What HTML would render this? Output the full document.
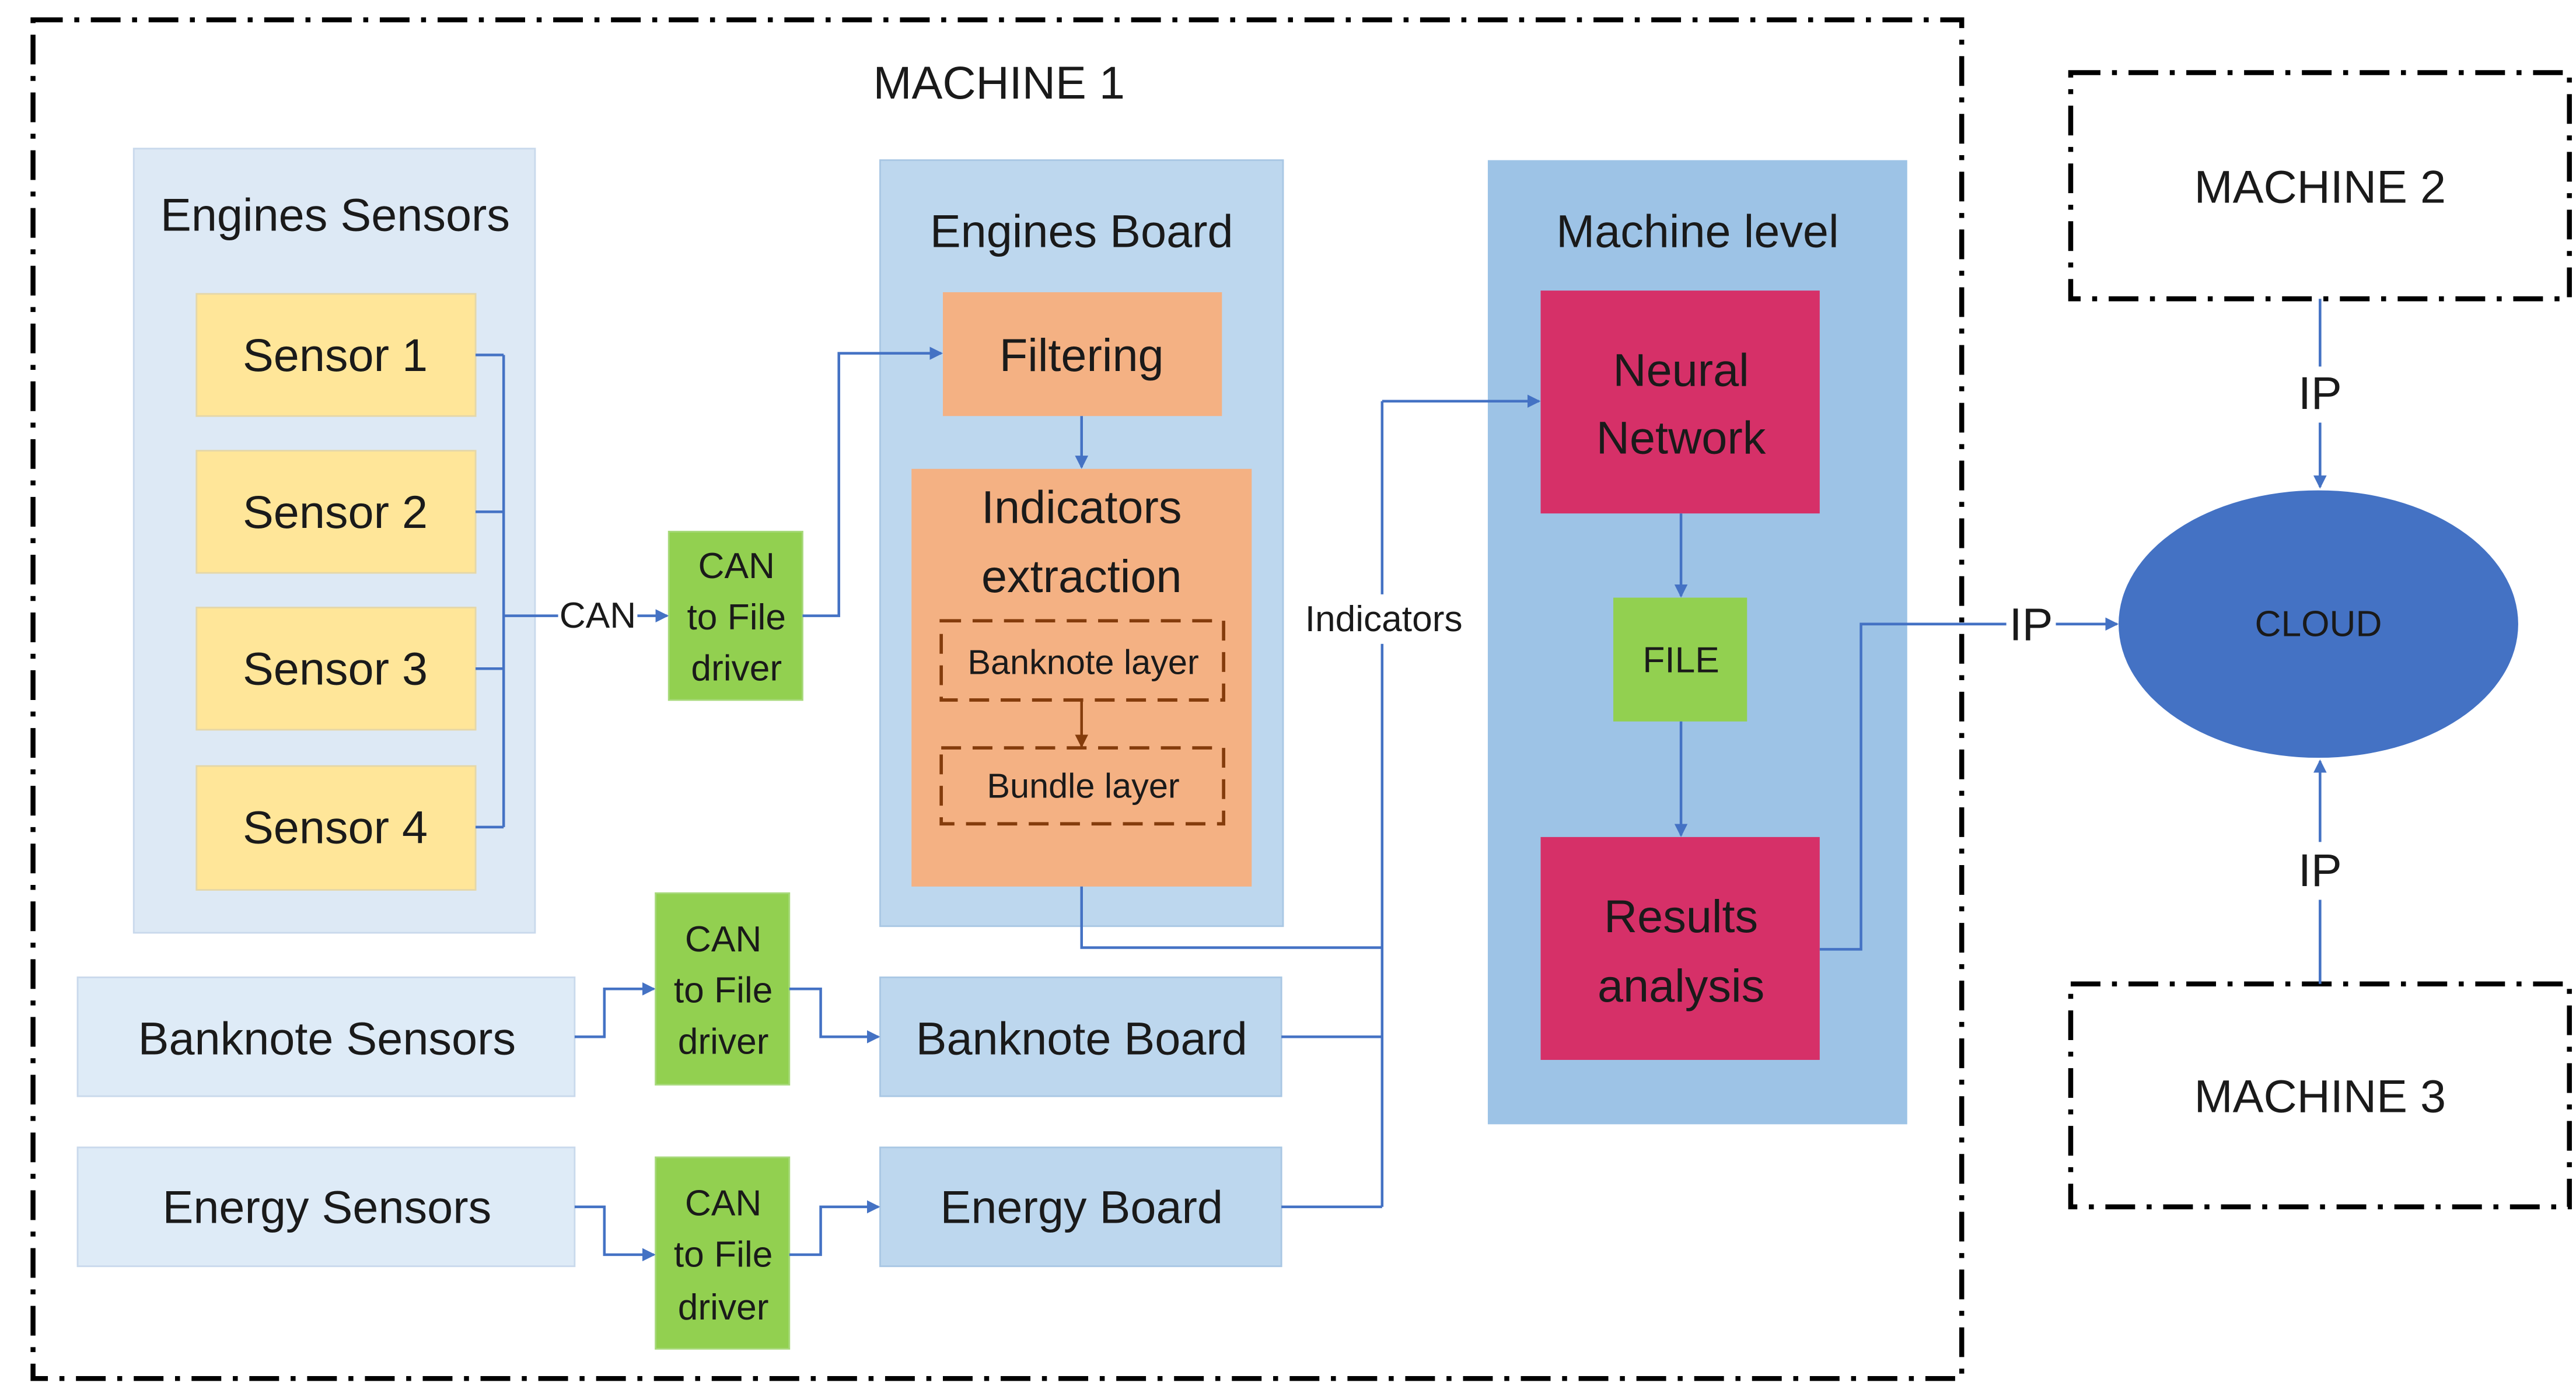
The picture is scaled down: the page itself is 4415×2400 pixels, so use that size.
<!DOCTYPE html>
<html><head><meta charset="utf-8"><style>
html,body{margin:0;padding:0;background:#fff;}
svg{display:block;}
text{font-family:"Liberation Sans",sans-serif;fill:#1a1a1a;text-anchor:middle;dominant-baseline:central;}
</style></head><body>
<svg width="4415" height="2400" viewBox="0 0 1560 848" xmlns="http://www.w3.org/2000/svg">
<defs>
<marker id="a" markerWidth="8" markerHeight="8" refX="7" refY="4" orient="auto" markerUnits="userSpaceOnUse">
<path d="M0,0 L8,4 L0,8 z" fill="#4472c4"/></marker>
<marker id="b" markerWidth="8" markerHeight="8" refX="7" refY="4" orient="auto" markerUnits="userSpaceOnUse">
<path d="M0,0 L8,4 L0,8 z" fill="#843c0c"/></marker>
</defs>
<rect width="1560" height="848" fill="#fff"/>
<rect x="20" y="12" width="1168" height="823" fill="none" stroke="#000" stroke-width="3" stroke-dasharray="18,7,3,7"/>
<text x="605" y="50" font-size="28">MACHINE 1</text>

<rect x="81" y="90" width="243" height="475" fill="#dde9f5" stroke="#c9d9ec"/>
<text x="203" y="130" font-size="28">Engines Sensors</text>
<g fill="#ffe699" stroke="#e5d7a8">
<rect x="119" y="178" width="169" height="74"/>
<rect x="119" y="273" width="169" height="74"/>
<rect x="119" y="368" width="169" height="74"/>
<rect x="119" y="464" width="169" height="75"/>
</g>
<text x="203" y="215" font-size="28">Sensor 1</text>
<text x="203" y="310" font-size="28">Sensor 2</text>
<text x="203" y="405" font-size="28">Sensor 3</text>
<text x="203" y="501" font-size="28">Sensor 4</text>

<g fill="#92d050" stroke="#a7d97a">
<rect x="405" y="322" width="81" height="102"/>
<rect x="397" y="541" width="81" height="116"/>
<rect x="397" y="701" width="81" height="116"/>
</g>
<g font-size="22">
<text x="446" y="343">CAN</text><text x="446" y="374">to File</text><text x="446" y="405">driver</text>
<text x="438" y="569">CAN</text><text x="438" y="600">to File</text><text x="438" y="631">driver</text>
<text x="438" y="729">CAN</text><text x="438" y="760">to File</text><text x="438" y="792">driver</text>
</g>

<rect x="533" y="97" width="244" height="464" fill="#bdd7ee" stroke="#a9c7e4"/>
<text x="655" y="140" font-size="28">Engines Board</text>
<rect x="571" y="177" width="169" height="75" fill="#f4b183"/>
<text x="655" y="215" font-size="28">Filtering</text>
<rect x="552" y="284" width="206" height="253" fill="#f4b183"/>
<text x="655" y="307" font-size="28">Indicators</text>
<text x="655" y="349" font-size="28">extraction</text>
<g fill="none" stroke="#843c0c" stroke-width="2" stroke-dasharray="12,7">
<rect x="570" y="376" width="171" height="48"/>
<rect x="570" y="453" width="171" height="46"/>
</g>
<path d="M655,424 V452" stroke="#843c0c" stroke-width="1.6" marker-end="url(#b)"/>
<text x="656" y="401" font-size="21">Banknote layer</text>
<text x="656" y="476" font-size="21">Bundle layer</text>

<rect x="47" y="592" width="301" height="72" fill="#deebf7" stroke="#c9d9ec"/>
<text x="198" y="629" font-size="28">Banknote Sensors</text>
<rect x="47" y="695" width="301" height="72" fill="#deebf7" stroke="#c9d9ec"/>
<text x="198" y="731" font-size="28">Energy Sensors</text>
<rect x="533" y="592" width="243" height="72" fill="#bdd7ee" stroke="#a9c7e4"/>
<text x="655" y="629" font-size="28">Banknote Board</text>
<rect x="533" y="695" width="243" height="72" fill="#bdd7ee" stroke="#a9c7e4"/>
<text x="655" y="731" font-size="28">Energy Board</text>

<rect x="901" y="97" width="254" height="584" fill="#9dc3e6"/>
<text x="1028" y="140" font-size="28">Machine level</text>
<rect x="933" y="176" width="169" height="135" fill="#d63068"/>
<text x="1018" y="224" font-size="28">Neural</text>
<text x="1018" y="265" font-size="28">Network</text>
<rect x="977" y="362" width="81" height="75" fill="#92d050"/>
<text x="1018" y="400" font-size="22">FILE</text>
<rect x="933" y="507" width="169" height="135" fill="#d63068"/>
<text x="1018" y="555" font-size="28">Results</text>
<text x="1018" y="597" font-size="28">analysis</text>

<ellipse cx="1404" cy="378" rx="121" ry="81" fill="#4472c4"/>
<text x="1404" y="378" font-size="22">CLOUD</text>

<g fill="none" stroke="#000" stroke-width="3" stroke-dasharray="18,7,3,7">
<rect x="1254" y="44" width="302" height="137"/>
<rect x="1254" y="596" width="302" height="135"/>
</g>
<text x="1405" y="113" font-size="28">MACHINE 2</text>
<text x="1405" y="664" font-size="28">MACHINE 3</text>

<!-- connectors on top -->
<g fill="none" stroke="#4472c4" stroke-width="1.6">
<path d="M288,215 H305 M288,310 H305 M288,405 H305 M288,501 H305 M305,215 V501 M305,373 H338"/>
<path d="M386,373 H404" marker-end="url(#a)"/>
<path d="M486,373 H508 V214 H570" marker-end="url(#a)"/>
<path d="M655,252 V283" marker-end="url(#a)"/>
<path d="M348,628 H366 V599 H396" marker-end="url(#a)"/>
<path d="M478,599 H497 V628 H532" marker-end="url(#a)"/>
<path d="M348,731 H366 V760 H396" marker-end="url(#a)"/>
<path d="M478,760 H497 V731 H532" marker-end="url(#a)"/>
<path d="M655,537 V574 H837 M776,628 H837 M776,731 H837 M837,731 V243"/>
<path d="M837,243 H932" marker-end="url(#a)"/>
<path d="M1018,311 V361" marker-end="url(#a)"/>
<path d="M1018,437 V506" marker-end="url(#a)"/>
<path d="M1102,575 H1127 V378 H1215"/>
<path d="M1245,378 H1282" marker-end="url(#a)"/>
<path d="M1405,181 V222 M1405,256 V295" marker-end="url(#a)"/>
<path d="M1405,596 V545 M1405,510 V461" marker-end="url(#a)"/>
</g>
<text x="362" y="373" font-size="22">CAN</text>
<rect x="785" y="360" width="106" height="30" fill="#fff"/>
<text x="838" y="375" font-size="22">Indicators</text>
<text x="1230" y="378" font-size="28">IP</text>
<text x="1405" y="238" font-size="28">IP</text>
<text x="1405" y="527" font-size="28">IP</text>
</svg>
</body></html>
